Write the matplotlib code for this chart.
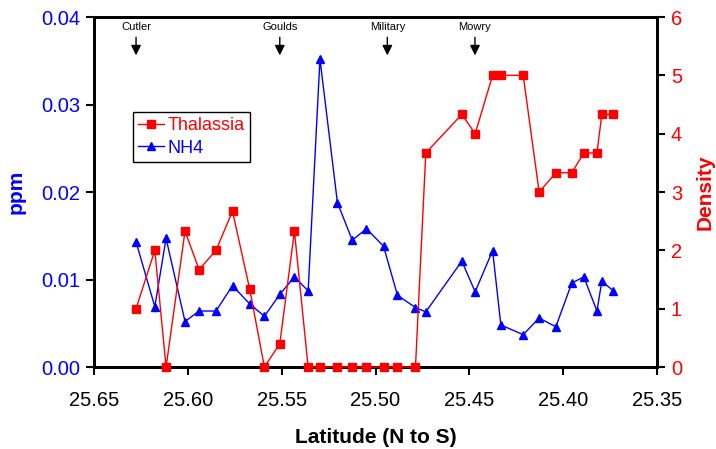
import matplotlib
matplotlib.use("Agg")
import matplotlib.pyplot as plt
from matplotlib.lines import Line2D

plt.rcParams['font.family'] = ['Liberation Sans', 'DejaVu Sans']

# ==========================================
# DATA
# ==========================================

latitude = [25.6276, 25.6176, 25.6116, 25.6015, 25.594, 25.585, 25.5762, 25.567,
            25.5592, 25.551, 25.5432, 25.5359, 25.5296, 25.5203, 25.5124, 25.5048,
            25.4957, 25.4883, 25.4787, 25.4732, 25.454, 25.4469, 25.4376, 25.4332,
            25.4213, 25.4128, 25.4039, 25.3954, 25.389, 25.382, 25.3794, 25.3732]

thalassia = [1.0, 2.0, 0.0, 2.33, 1.67, 2.0, 2.67, 1.33,
             0.0, 0.4, 2.33, 0.0, 0.0, 0.0, 0.0, 0.0,
             0.0, 0.0, 0.0, 3.67, 4.33, 4.0, 5.0, 5.0,
             5.0, 3.0, 3.33, 3.33, 3.67, 3.67, 4.33, 4.33]

nh4 = [0.0143, 0.0069, 0.0147, 0.0052, 0.0064, 0.0064, 0.0093, 0.0072,
       0.0058, 0.0083, 0.0103, 0.0087, 0.0352, 0.0188, 0.0145, 0.0158,
       0.0138, 0.0082, 0.0068, 0.0063, 0.0121, 0.0086, 0.0133, 0.0048,
       0.0037, 0.0056, 0.0046, 0.0096, 0.0103, 0.0064, 0.0098, 0.0087]

sites = ["Cutler", "Goulds", "Military", "Mowry"]
site_lat = [25.6276, 25.551, 25.4937, 25.447]


# ==========================================
# FIGURE
# ==========================================

fig = plt.figure(figsize=(7.16, 4.49), dpi=100)
ax = fig.add_axes([0.1313, 0.1826, 0.7863, 0.7795])
ax2 = ax.twinx()

ax.plot(latitude, nh4, color='blue', linewidth=1, marker='^',
        markersize=6, clip_on=False, zorder=3)
ax2.plot(latitude, thalassia, color='red', linewidth=1, marker='s',
         markersize=5.5, clip_on=False, zorder=3)

ax.set_xlim(25.65, 25.35)
ax.set_ylim(0, 0.04)
ax2.set_ylim(0, 6)

ax.set_xticks([25.65, 25.60, 25.55, 25.50, 25.45, 25.40, 25.35])
ax.set_xticklabels(["25.65", "25.60", "25.55", "25.50", "25.45", "25.40", "25.35"])
ax.set_yticks([0, 0.01, 0.02, 0.03, 0.04])
ax.set_yticklabels(["0.00", "0.01", "0.02", "0.03", "0.04"])
ax2.set_yticks([0, 1, 2, 3, 4, 5, 6])

ax.tick_params(axis='x', labelsize=14.5, colors='black', direction='out',
               length=6, width=1.5, pad=11)
ax.tick_params(axis='y', labelsize=14.5, labelcolor='blue', direction='out',
               length=6, width=1.5, pad=4)
ax2.tick_params(axis='y', labelsize=14.5, labelcolor='red', direction='out',
                length=6, width=1.5, pad=4)

for a in (ax, ax2):
    for s in a.spines.values():
        s.set_linewidth(2)
        s.set_color('black')

ax.set_xlabel("Latitude (N to S)", fontsize=15, fontweight='bold', labelpad=13)
ax.set_ylabel("ppm", fontsize=15, fontweight='bold', color='blue', labelpad=11)
ax2.set_ylabel("Density", fontsize=15, fontweight='bold', color='red', labelpad=10)


# SITE MARKERS

for name, lat in zip(sites, site_lat):
    ax.annotate("", xy=(lat, 0.0353), xytext=(lat, 0.0380),
                arrowprops=dict(arrowstyle='-|>', color='black', lw=1,
                                mutation_scale=15))
    ax.text(lat, 0.0389, name, fontsize=8, ha='center', va='center')


# LEGEND

handles = [
    Line2D([], [], color='red', linewidth=1, marker='s', markersize=5.5),
    Line2D([], [], color='blue', linewidth=1, marker='^', markersize=6),
]
leg = ax2.legend(handles, ["Thalassia", "NH4"], loc='upper left',
                 bbox_to_anchor=(0.069, 0.729), borderaxespad=0,
                 fontsize=13, fancybox=False, framealpha=1,
                 handlelength=1.4, handletextpad=0.2, borderpad=0.3,
                 labelspacing=0.3)
leg.get_frame().set_edgecolor('black')
leg.get_frame().set_linewidth(1)
for t, c in zip(leg.get_texts(), ['red', 'blue']):
    t.set_color(c)

fig.savefig("out.png", dpi=100)
